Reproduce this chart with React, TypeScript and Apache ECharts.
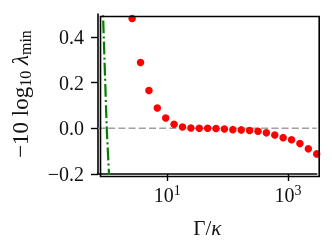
import React, { useEffect, useRef } from "react";
import * as echarts from "echarts";

const gammaOverKappa = [
  2.614, 3.6, 4.96, 6.831, 9.41, 12.96, 17.86, 24.6, 33.88, 46.67, 64.29, 88.56,
  122.0, 168.1, 231.5, 318.9, 439.3, 605.1, 833.5, 1148, 1581, 2178, 3000,
];
const lambdaDb = [
  0.48, 0.288, 0.165, 0.089, 0.045, 0.018, 0.006, 0.0015, 0.0, 0.0, -0.001, -0.003,
  -0.006, -0.007, -0.01, -0.013, -0.02, -0.029, -0.041, -0.05, -0.067, -0.09, -0.112,
];
const boundX = [0.8, 0.86, 0.99, 1.08, 1.12];
const boundY = [0.75, 0.5, 0.0, -0.2, -0.3];
const xTicks = [10, 1000];
const xTickLabels = ["10{sup|1}", "10{sup|3}"];
const yTicks = [-0.2, 0.0, 0.2, 0.4];

const FONT = "'Liberation Serif', 'DejaVu Serif', serif";
const G = { left: 98, top: 14, width: 218.7, height: 160 };

export default function App() {
  const ref = useRef<HTMLDivElement>(null);
  useEffect(() => {
    if (!ref.current) return;
    const chart = echarts.init(ref.current, null, { renderer: "svg" });
    chart.setOption({
      animation: false,
      grid: {
        left: G.left,
        top: G.top,
        width: G.width,
        height: G.height,
        containLabel: false,
        outerBoundsMode: "none",
        show: false,
      },
      graphic: [
        {
          type: "rect",
          left: G.left,
          top: G.top,
          shape: { width: G.width, height: G.height },
          style: { fill: "none", stroke: "#000", lineWidth: 1.6 },
          z: 100,
          silent: true,
        },
      ],
      xAxis: {
        type: "log",
        logBase: 10,
        min: 0.71,
        max: 3000,
        name: "Γ/{it|κ}",
        nameLocation: "middle",
        nameGap: 43,
        nameTextStyle: {
          fontFamily: FONT,
          fontSize: 21,
          color: "#111",
          rich: { it: { fontFamily: FONT, fontSize: 21, fontStyle: "italic", color: "#111" } },
        },
        axisLine: { show: true, onZero: false, lineStyle: { color: "#000", width: 1.6 } },
        axisTick: { show: true, customValues: xTicks, length: 7, lineStyle: { color: "#000", width: 1.4 } },
        minorTick: { show: false },
        splitLine: { show: false },
        axisLabel: {
          customValues: xTicks,
          margin: 9,
          fontFamily: FONT,
          fontSize: 20,
          color: "#111",
          formatter: (v: number) => {
            const i = xTicks.findIndex((t) => Math.abs(Math.log10(t) - Math.log10(v)) < 1e-6);
            return i >= 0 ? xTickLabels[i] : "";
          },
          rich: { sup: { fontFamily: FONT, fontSize: 14, color: "#111", padding: [0, 0, 9, 0] } },
        },
      },
      yAxis: {
        type: "value",
        min: -0.2,
        max: 0.5,
        name: "−10 log{sub|10} {it|λ}{sub|min}",
        nameLocation: "middle",
        nameGap: 65,
        nameRotate: 90,
        nameTextStyle: {
          fontFamily: FONT,
          fontSize: 23,
          color: "#111",
          rich: {
            sub: { fontFamily: FONT, fontSize: 16, color: "#111", padding: [10, 0, 0, 0] },
            it: { fontFamily: FONT, fontSize: 23, fontStyle: "italic", color: "#111" },
          },
        },
        axisLine: { show: true, onZero: false, lineStyle: { color: "#000", width: 1.6 } },
        axisTick: { show: true, customValues: yTicks, length: 7, lineStyle: { color: "#000", width: 1.4 } },
        splitLine: { show: false },
        axisLabel: {
          customValues: yTicks,
          margin: 14,
          fontFamily: FONT,
          fontSize: 20,
          color: "#111",
          formatter: (v: number) => (v < 0 ? "−" + Math.abs(v).toFixed(1) : v.toFixed(1)),
        },
      },
      series: [
        {
          type: "line",
          data: [
            [0.71, 0],
            [3000, 0],
          ],
          symbol: "none",
          lineStyle: { color: "#a0a0a0", width: 1.6, type: [7, 3.2] },
          z: 1,
          silent: true,
        },
        {
          type: "line",
          data: boundX.map((x, i) => [x, boundY[i]]),
          symbol: "none",
          clip: true,
          lineStyle: { color: "#008000", width: 2.2, type: [12.8, 3.2, 2, 3.2] },
          z: 2,
        },
        {
          type: "scatter",
          data: gammaOverKappa.map((x, i) => [x, lambdaDb[i]]),
          symbol: "circle",
          symbolSize: 7.5,
          itemStyle: { color: "#ff0000", opacity: 1 },
          clip: false,
          z: 3,
        },
      ],
    });
    return () => chart.dispose();
  }, []);
  return (
    <div
      ref={ref}
      style={{ position: "fixed", left: 0, top: 0, width: 332, height: 251 }}
    />
  );
}
